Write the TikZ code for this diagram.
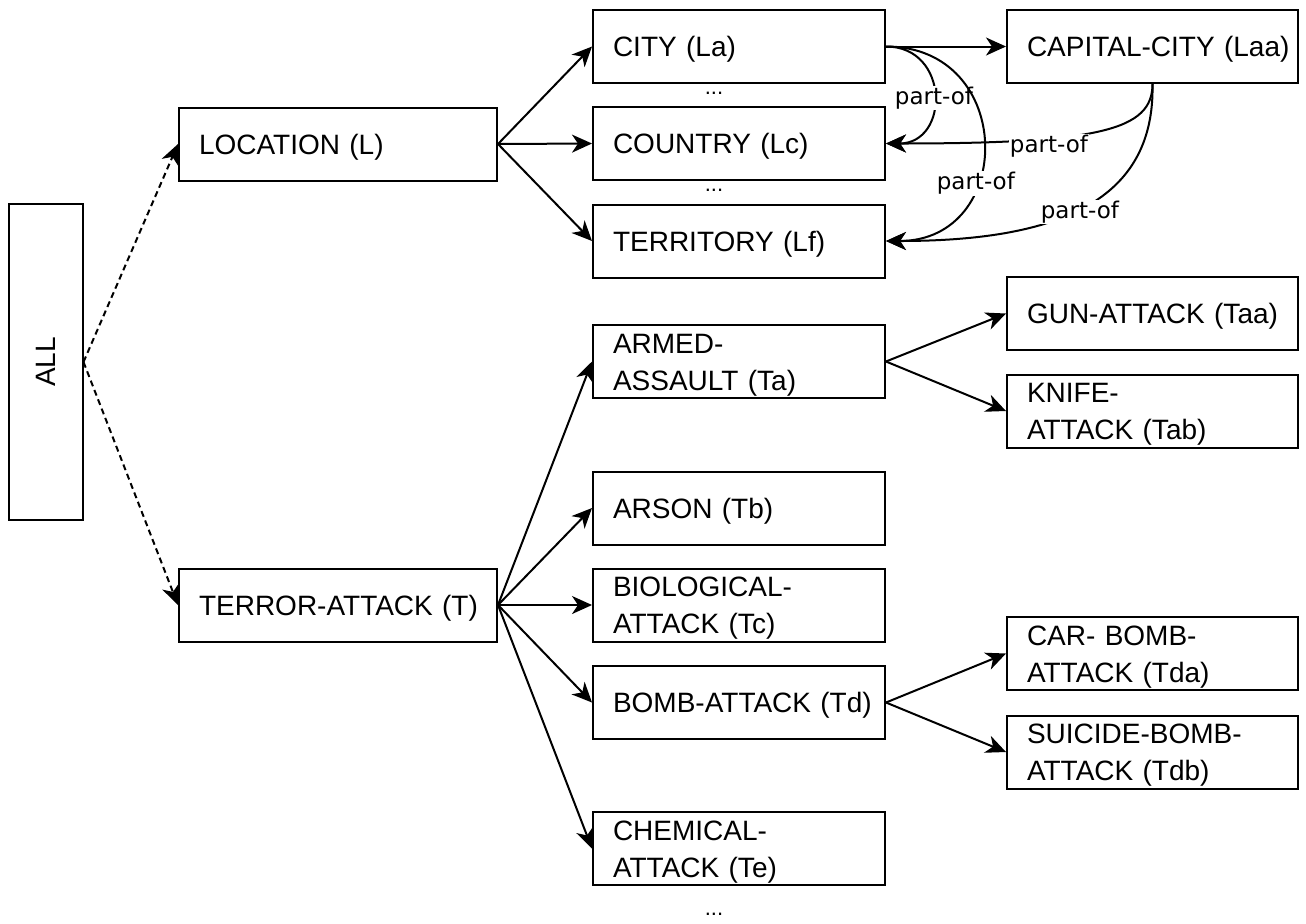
\documentclass[tikz,border=0pt]{standalone}
\usepackage{fontspec}
\usepackage{graphicx}
\setmainfont{Liberation Sans}
\newfontfamily\lblfont{DejaVu Sans}
\usetikzlibrary{arrows.meta}
\newcommand{\nb}[1]{\mbox{#1}}
\begin{document}
\begin{tikzpicture}[x=0.5pt,y=-0.5pt,
  box/.style={draw=black, line width=1pt, fill=white, rectangle, minimum height=36.5pt,
    inner xsep=10pt, inner ysep=0pt, align=left,
    font=\fontsize{14}{18.5}\selectfont},
  one/.style={text height=10pt, text depth=0pt},
  two/.style={text height=10pt, text depth=18.5pt},
  lbox/.style={box, text width=139pt, minimum width=159pt},
  mbox/.style={box, text width=126pt, minimum width=146pt},
  rbox/.style={box, text width=125.5pt, minimum width=145.5pt},
  arr/.style={line width=1pt, -{Stealth[length=10pt,width=9pt,inset=3pt]}},
  darr/.style={arr, dash pattern=on 3pt off 2pt},
  lbl/.style={fill=white, inner sep=0.5pt, font=\lblfont\fontsize{11.5}{13}\selectfont},
  dots/.style={font=\fontsize{11}{13}\selectfont, inner sep=0pt}
]
\fill[white] (0,0) rectangle (1306,923);
\useasboundingbox (0,0) rectangle (1306,923);

% nodes
\node[draw=black, line width=1pt, fill=white, minimum width=37pt, minimum height=158pt,
      inner sep=0pt, font=\fontsize{14}{18}\selectfont] (all) at (45.5,362) {\rotatebox{90}{ALL}};
\node[lbox, one] (L) at (338,144) {\nb{LOCATION (L)}};
\node[lbox, one] (T) at (338,605) {\nb{TERROR-ATTACK (T)}};
\node[mbox, one] (La) at (739,46.5) {\nb{CITY (La)}};
\node[mbox, one] (Lc) at (739,143.5) {\nb{COUNTRY (Lc)}};
\node[mbox, one] (Lf) at (739,241) {\nb{TERRITORY (Lf)}};
\node[mbox, two] (Ta) at (739,361.5) {\nb{ARMED-}\\\nb{ASSAULT (Ta)}};
\node[mbox, one] (Tb) at (739,508) {\nb{ARSON (Tb)}};
\node[mbox, two] (Tc) at (739,605) {\nb{BIOLOGICAL-}\\\nb{ATTACK (Tc)}};
\node[mbox, one] (Td) at (739,702.5) {\nb{BOMB-ATTACK (Td)}};
\node[mbox, two] (Te) at (739,848.5) {\nb{CHEMICAL-}\\\nb{ATTACK (Te)}};
\node[rbox, one] (Laa) at (1152.5,46.5) {\nb{CAPITAL-CITY (Laa)}};
\node[rbox, one] (Taa) at (1152.5,313.5) {\nb{GUN-ATTACK (Taa)}};
\node[rbox, two] (Tab) at (1152.5,411) {\nb{KNIFE-}\\\nb{ATTACK (Tab)}};
\node[rbox, two] (Tda) at (1152.5,653.5) {\nb{CAR- BOMB-}\\\nb{ATTACK (Tda)}};
\node[rbox, two] (Tdb) at (1152.5,752) {\nb{SUICIDE-BOMB-}\\\nb{ATTACK (Tdb)}};

\node[dots] (d1) at (714,93) {...};
\node[dots] (d2) at (714,190) {...};
\node[dots] (d3) at (714,914) {...};

% dashed edges from ALL
\draw[darr] (all.east) -- (L.west);
\draw[darr] (all.east) -- (T.west);

% location edges
\draw[arr] (L.east) -- (La.west);
\draw[arr] (L.east) -- (Lc.west);
\draw[arr] (L.east) -- (Lf.west);
\draw[arr] (La.east) -- (Laa.west);

% terror edges
\draw[arr] (T.east) -- (Ta.west);
\draw[arr] (T.east) -- (Tb.west);
\draw[arr] (T.east) -- (Tc.west);
\draw[arr] (T.east) -- (Td.west);
\draw[arr] (T.east) -- (Te.west);
\draw[arr] (Ta.east) -- (Taa.west);
\draw[arr] (Ta.east) -- (Tab.west);
\draw[arr] (Td.east) -- (Tda.west);
\draw[arr] (Td.east) -- (Tdb.west);

% part-of curves
\draw[arr] (La.east) .. controls (950,46.5) and (950,143.5) .. node[lbl, pos=0.5, yshift=-1.5pt] {part-of} (Lc.east);
\draw[arr] (La.east) .. controls (1016,46.5) and (1016,241) .. node[lbl, pos=0.64] {part-of} (Lf.east);
\draw[arr] (Laa.south) .. controls (1152.5,130) and (1100,143.5) .. node[lbl, pos=0.67, yshift=-4pt] {part-of} (Lc.east);
\draw[arr] (Laa.south) .. controls (1155,200) and (1060,241) .. node[lbl, pos=0.52, yshift=-1.5pt] {part-of} (Lf.east);
\end{tikzpicture}
\end{document}
